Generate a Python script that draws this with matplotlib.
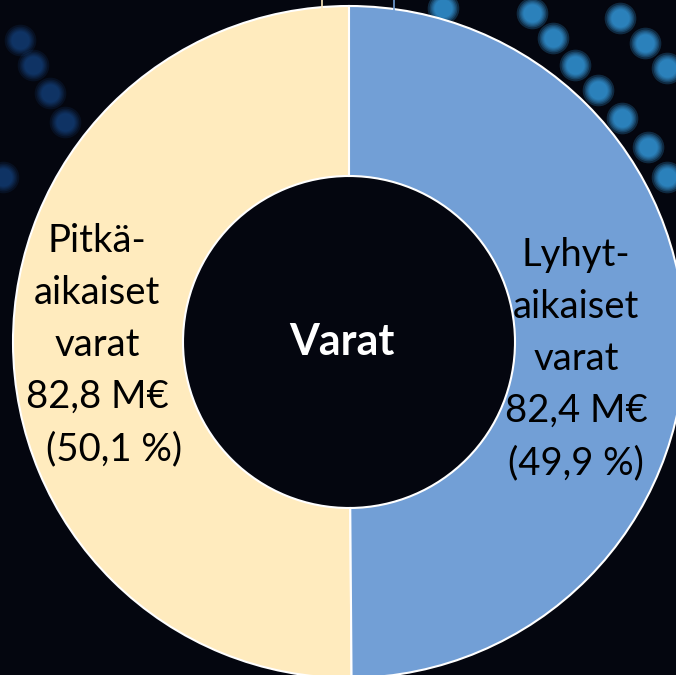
import matplotlib.pyplot as plt

# asset split (M€)
labels = ["Pitkäaikaiset varat", "Lyhytaikaiset varat"]
values = [82.8, 82.4]
shares = [50.1, 49.9]
left_lines = ["Pitkä-", "aikaiset", "varat", "82,8 M€", "(50,1 %)"]
right_lines = ["Lyhyt-", "aikaiset", "varat", "82,4 M€", "(49,9 %)"]
center_title = "Varat"

colors = ["#FFEBBE", "#729FD6"]
bg = "#04060f"

W, H = 676, 675
fig = plt.figure(figsize=(W / 100, H / 100), dpi=100, facecolor=bg)
ax = fig.add_axes([0, 0, 1, 1])
ax.set_facecolor(bg)

# background photo imitation: a few blurred blue lights (pixel coords, y down)
bright_spots = [(443, 8), (532, 13), (553, 38), (575, 65), (598, 90), (622, 118),
                (648, 147), (667, 177), (620, 18), (645, 43), (667, 68)]
dim_spots = [(20, 40), (33, 65), (50, 93), (65, 122), (3, 177)]
for spots, col, a in [(bright_spots, "#3aa8f0", 1.0), (dim_spots, "#1d5fb0", 0.55)]:
    xs = [p[0] for p in spots]
    ys = [H - p[1] for p in spots]
    for s in [520, 400, 320, 260, 210, 170]:
        ax.scatter(xs, ys, s=s, color=col, alpha=0.22 * a, lw=0, zorder=0)

cx, cy = 349, H - 342
r_out, r_in = 336, 166

ax.pie(values, colors=colors, startangle=90, counterclock=True,
       radius=r_out, center=(cx, cy), frame=False,
       wedgeprops=dict(width=r_out - r_in, edgecolor="white", linewidth=1.5))

# little leader-line stubs at the top edge
ax.plot([322, 322], [H, H - 10], color=colors[0], lw=1.2)
ax.plot([394, 394], [H, H - 12], color=colors[1], lw=1.2)

font = "Lato"
left_x = [97, 97, 97, 97, 114]
for i, line in enumerate(left_lines):
    ax.text(left_x[i], H - (252 + 52 * i), line, ha="center", va="baseline",
            fontsize=27.5, family=font, color="black")
for i, line in enumerate(right_lines):
    ax.text(576, H - (266 + 52 * i), line, ha="center", va="baseline",
            fontsize=27.5, family=font, color="black")

ax.text(cx - 7, cy, center_title, ha="center", va="center",
        fontsize=31, fontweight="bold", family=font, color="white")

ax.set_xlim(0, W)
ax.set_ylim(0, H)
ax.set_aspect("equal")
ax.axis("off")

fig.savefig("out.png", dpi=100, facecolor=bg)
